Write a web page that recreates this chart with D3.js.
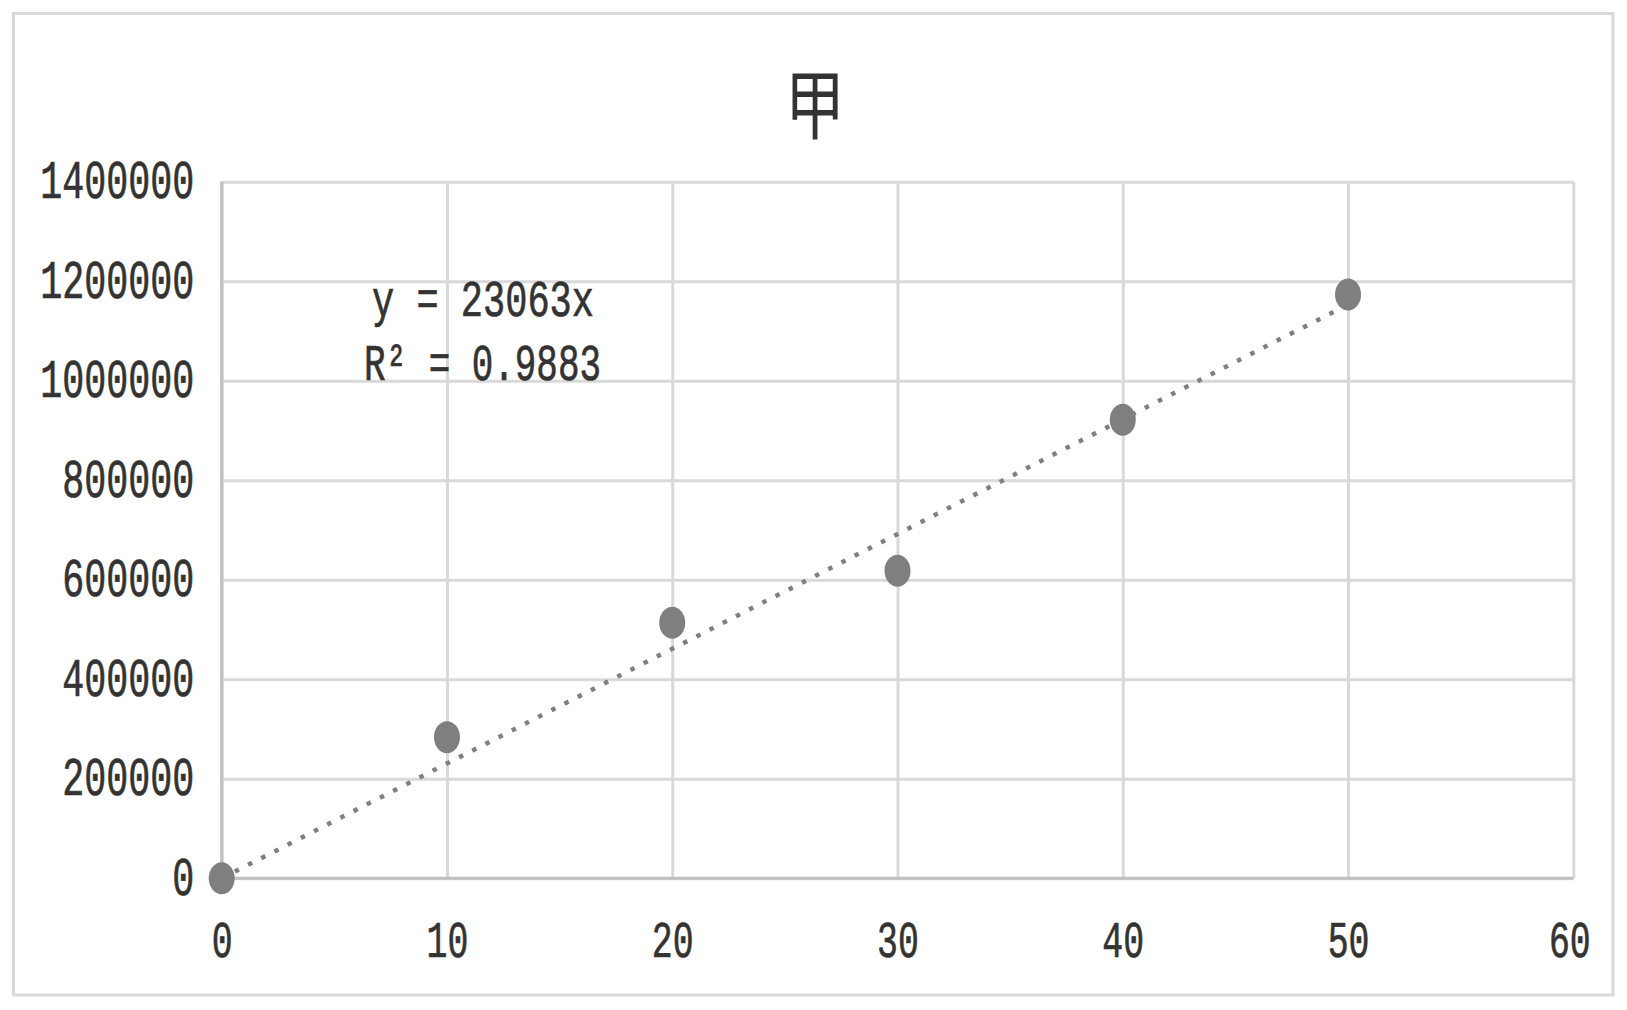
<!DOCTYPE html>
<html>
<head>
<meta charset="utf-8">
<script src="https://cdn.jsdelivr.net/npm/d3@7"></script>
<style>
  body { margin: 0; background: #fff; }
</style>
</head>
<body>
<div id="chart"></div>
<script>
const title = "甲"
const xValues = [0, 10, 20, 30, 40, 50]
const yValues = [0, 283700, 513600, 618100, 921600, 1173300]
const xTicks = [0, 10, 20, 30, 40, 50, 60]
const yTicks = [0, 200000, 400000, 600000, 800000, 1000000, 1200000, 1400000]
const slope = 23063
const rSquared = 0.9883
const eqLines = [`y = ${slope}x`, `R² = ${rSquared}`]

const width = 1627
const height = 1010
const plotLeft = 221.7, plotRight = 1573.3, plotTop = 181.7, plotBottom = 878.3
const charW = 22          // squashed advance of one digit
const textColor = "#333"
const gridColor = "#d9d9d9"
const axisColor = "#bfbfbf"
const markColor = "#7f7f7f"
const font = "'Liberation Mono', 'DejaVu Sans Mono', monospace"

const x = d3.scaleLinear().domain([0, 60]).range([plotLeft, plotRight])
const y = d3.scaleLinear().domain([0, 1400000]).range([plotBottom, plotTop])

const svg = d3.select("#chart")
  .append("svg")
  .attr("width", width)
  .attr("height", height)
  .attr("viewBox", [0, 0, width, height])

// outer chart border
svg.append("rect")
  .attr("x", 13.5).attr("y", 13.5)
  .attr("width", 1599.5).attr("height", 981.5)
  .attr("fill", "#fff")
  .attr("stroke", gridColor)
  .attr("stroke-width", 3)

svg.append("text")
  .attr("x", 815)
  .attr("y", 133)
  .attr("text-anchor", "middle")
  .attr("font-family", "'Noto Sans CJK SC', sans-serif")
  .attr("font-size", 76)
  .attr("textLength", 60)
  .attr("lengthAdjust", "spacingAndGlyphs")
  .attr("fill", "#333")
  .text(title)

// horizontal grid + y labels
const yAxis = svg.append("g")
  .attr("transform", `translate(${plotLeft},0)`)
  .call(d3.axisLeft(y)
    .tickValues(yTicks)
    .tickSize(-(plotRight - plotLeft))
    .tickPadding(27.4)
    .tickFormat(d3.format("d")))

yAxis.select(".domain").remove()
yAxis.selectAll(".tick line")
  .attr("stroke", gridColor)
  .attr("stroke-width", 3)
yAxis.selectAll(".tick text")
  .attr("dy", "0.3em")
  .attr("font-family", font)
  .attr("font-size", 53)
  .attr("fill", textColor)
  .attr("stroke", textColor)
  .attr("stroke-width", 0.7)
  .attr("textLength", d => String(d).length * charW)
  .attr("lengthAdjust", "spacingAndGlyphs")

// vertical grid + x labels
const xAxis = svg.append("g")
  .attr("transform", `translate(0,${plotBottom})`)
  .call(d3.axisBottom(x)
    .tickValues(xTicks)
    .tickSize(-(plotBottom - plotTop)))

xAxis.select(".domain").remove()
xAxis.selectAll(".tick line")
  .attr("stroke", gridColor)
  .attr("stroke-width", 3)
xAxis.selectAll(".tick text")
  .attr("x", d => d === 60 ? -4 : 0)
  .attr("y", 78.5)
  .attr("dy", 0)
  .attr("font-family", font)
  .attr("font-size", 51)
  .attr("fill", textColor)
  .attr("stroke", textColor)
  .attr("stroke-width", 0.7)
  .attr("textLength", d => String(d).length * charW * 0.95)
  .attr("lengthAdjust", "spacingAndGlyphs")

// the two axis lines, a bit darker than the grid
svg.append("line")
  .attr("x1", x(0)).attr("x2", x(60))
  .attr("y1", y(0)).attr("y2", y(0))
  .attr("stroke", axisColor).attr("stroke-width", 3)
svg.append("line")
  .attr("x1", x(0)).attr("x2", x(0))
  .attr("y1", y(0)).attr("y2", y(1400000))
  .attr("stroke", axisColor).attr("stroke-width", 3)

// linear trendline through origin
const xMax = d3.max(xValues)
svg.append("line")
  .attr("x1", x(0)).attr("y1", y(0))
  .attr("x2", x(xMax)).attr("y2", y(slope * xMax))
  .attr("stroke", markColor)
  .attr("stroke-width", 4.5)
  .attr("stroke-dasharray", "4.5 10.3")

svg.append("g")
  .selectAll("ellipse")
  .data(xValues)
  .join("ellipse")
  .attr("cx", d => x(d))
  .attr("cy", (d, i) => y(yValues[i]))
  .attr("rx", 13)
  .attr("ry", 16)
  .attr("fill", markColor)

// trendline label
svg.append("g")
  .selectAll("text")
  .data(eqLines)
  .join("text")
  .attr("x", (d, i) => i === 0 ? 372 : 364)
  .attr("y", (d, i) => i === 0 ? 316 : 380)
  .attr("font-family", font)
  .attr("font-size", 52)
  .attr("fill", textColor)
  .attr("stroke", textColor)
  .attr("stroke-width", 0.7)
  .attr("textLength", (d, i) => i === 0 ? 222 : 237)
  .attr("lengthAdjust", "spacingAndGlyphs")
  .text(d => d)
</script>
</body>
</html>
